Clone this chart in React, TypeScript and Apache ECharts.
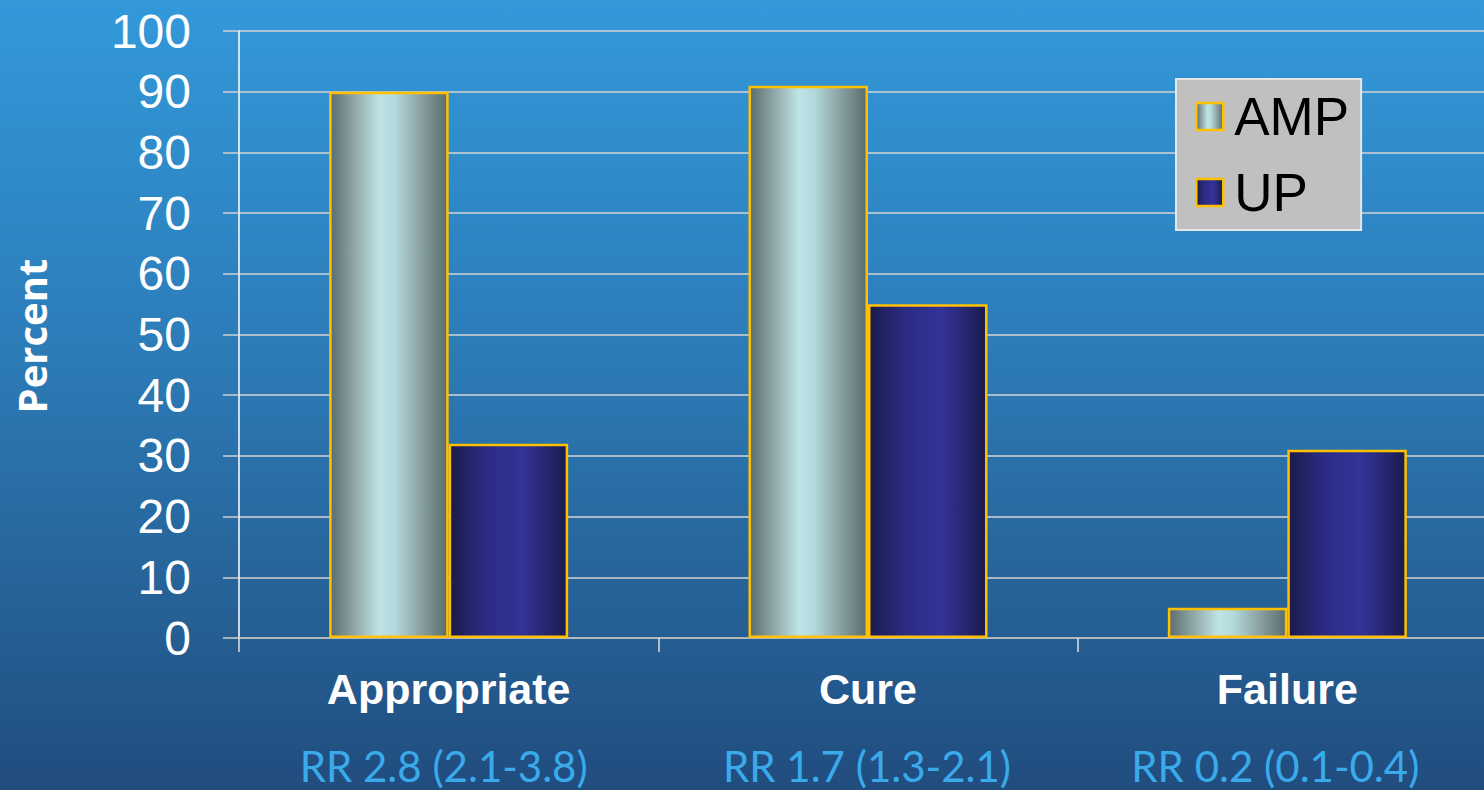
import React, { useEffect, useRef } from "react";
import * as echarts from "echarts";

// Outcome categories and the relative risk under each
const categories = ["Appropriate", "Cure", "Failure"];
const riskRatios = ["RR 2.8 (2.1-3.8)", "RR 1.7 (1.3-2.1)", "RR 0.2 (0.1-0.4)"];

// Percent of patients per group
const ampValues = [90, 91, 5];
const upValues = [32, 55, 31];

// Y axis range
const yMin = 0;
const yMax = 100;
const yStep = 10;

const ampFill = new echarts.graphic.LinearGradient(0, 0, 1, 0, [
  { offset: 0, color: "#5b6d6e" },
  { offset: 0.2, color: "#8ea5a6" },
  { offset: 0.42, color: "#bfe4e6" },
  { offset: 0.55, color: "#b4d9dc" },
  { offset: 0.8, color: "#849a9b" },
  { offset: 1, color: "#5b6d6e" },
]);

const upFill = new echarts.graphic.LinearGradient(0, 0, 1, 0, [
  { offset: 0, color: "#1b1b4c" },
  { offset: 0.3, color: "#2b2b84" },
  { offset: 0.62, color: "#333399" },
  { offset: 1, color: "#1b1b4c" },
]);

const rrStyle = {
  color: "#3aaaeb",
  fontFamily: "Lato, sans-serif",
  fontSize: 42,
  lineHeight: 74,
};

export default function App() {
  const ref = useRef<HTMLDivElement>(null);

  useEffect(() => {
    if (!ref.current) return;
    const chart = echarts.init(ref.current, null, { renderer: "svg" });

    chart.setOption({
      animation: false,
      backgroundColor: "transparent",
      grid: { left: 239, top: 31, right: 0, bottom: 152, containLabel: false },
      legend: {
        orient: "vertical",
        left: 1176,
        top: 79,
        icon: "rect",
        itemWidth: 27,
        itemHeight: 27,
        itemGap: 23,
        padding: [11, 12, 11, 19],
        backgroundColor: "#c0c0c0",
        borderColor: "#e6e6e6",
        borderWidth: 2,
        borderRadius: 0,
        textStyle: {
          color: "#000000",
          fontFamily: "Liberation Sans, Arial, sans-serif",
          fontSize: 53,
          padding: [0, 0, 0, 6],
        },
        data: [
          { name: "AMP", itemStyle: { color: ampFill, borderColor: "#ffc000", borderWidth: 2.5 } },
          { name: "UP", itemStyle: { color: upFill, borderColor: "#ffc000", borderWidth: 2.5 } },
        ],
      },
      xAxis: {
        type: "category",
        data: categories,
        axisLine: { show: true, lineStyle: { color: "#b8b8b8", width: 1.5 } },
        axisTick: {
          show: true,
          alignWithLabel: false,
          length: 14,
          lineStyle: { color: "#e0e0e0", width: 1.5 },
        },
        axisLabel: {
          margin: 11,
          interval: 0,
          formatter: (value: string, index: number) =>
            `{cat|${value}}\n{rr${index}|${riskRatios[index]}}`,
          rich: {
            cat: {
              color: "#ffffff",
              fontFamily: "Liberation Sans, Arial, sans-serif",
              fontWeight: "bold",
              fontSize: 43,
              lineHeight: 80,
            },
            // risk-ratio lines sit slightly left of their category centre
            rr0: { ...rrStyle, padding: [0, 10, 0, 0] },
            rr1: { ...rrStyle, padding: [0, 2, 0, 0] },
            rr2: { ...rrStyle, padding: [0, 24, 0, 0] },
          },
        },
      },
      yAxis: {
        type: "value",
        min: yMin,
        max: yMax,
        interval: yStep,
        axisLine: { show: true, lineStyle: { color: "#ffffff", width: 1.5 } },
        axisTick: { show: true, length: 16, lineStyle: { color: "#d0d0d0", width: 1.5 } },
        splitLine: { show: true, lineStyle: { color: "#d4d4d4", width: 1.5 } },
        axisLabel: {
          margin: 48,
          color: "#ffffff",
          fontFamily: "Liberation Sans, Arial, sans-serif",
          fontSize: 48,
        },
      },
      graphic: [
        {
          type: "text",
          x: 31,
          y: 336,
          rotation: Math.PI / 2,
          style: {
            text: "Percent",
            fill: "#ffffff",
            font: "bold 40px 'Open Sans', sans-serif",
            align: "center",
            verticalAlign: "middle",
          },
        },
      ],
      series: [
        {
          name: "AMP",
          type: "bar",
          data: ampValues,
          barGap: "0%",
          barCategoryGap: "43%",
          itemStyle: { color: ampFill, borderColor: "#ffc000", borderWidth: 2.5 },
        },
        {
          name: "UP",
          type: "bar",
          data: upValues,
          barGap: "0%",
          barCategoryGap: "43%",
          itemStyle: { color: upFill, borderColor: "#ffc000", borderWidth: 2.5 },
        },
      ],
    });

    return () => chart.dispose();
  }, []);

  // The chart canvas is a little wider than the visible frame, so the
  // last category runs past the right edge
  return (
    <div
      style={{
        position: "fixed",
        left: 0,
        top: 0,
        width: 1484,
        height: 790,
        overflow: "hidden",
        background: "linear-gradient(to bottom, #3399da 0%, #2c7bb7 45%, #255e93 80%, #214c7e 100%)",
      }}
    >
      <div ref={ref} style={{ width: 1497, height: 790 }} />
    </div>
  );
}
